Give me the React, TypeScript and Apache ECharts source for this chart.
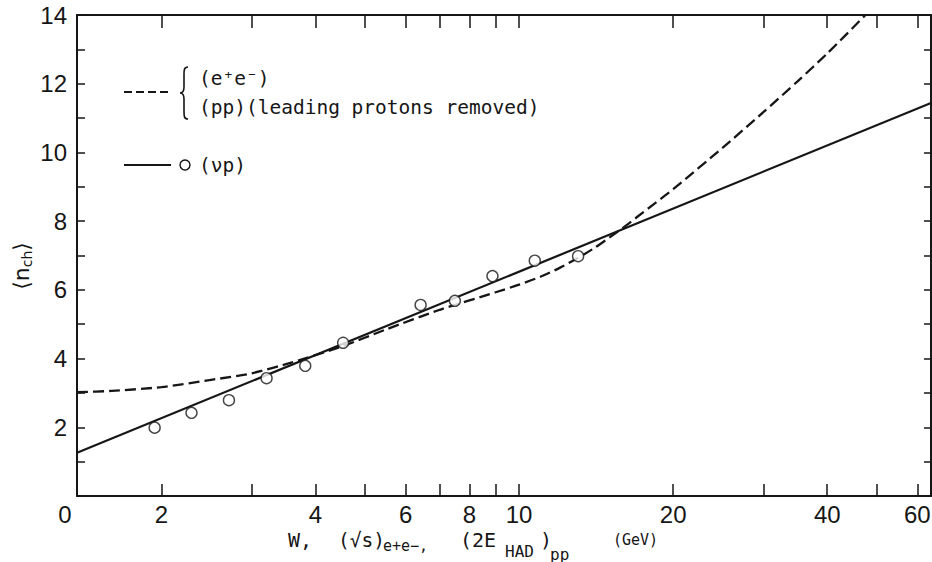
import React, { useEffect, useRef } from "react";
import * as echarts from "echarts";

// Axis ranges (W in GeV, log scale; <n_ch> linear)
const xMinW = 1.368;
const xMaxW = 63.8;
const yMin = 0;
const yMax = 14;
const yInterval = 2;
const xTickValues = [2, 3, 4, 5, 6, 7, 8, 9, 10, 20, 30, 40, 50, 60];
const xLabelValues = [2, 4, 6, 8, 10, 20, 40, 60];

// (nu p) data points
const nuW = [1.94, 2.29, 2.71, 3.21, 3.82, 4.53, 6.42, 7.49, 8.87, 10.73, 13.04];
const nuN = [1.99, 2.42, 2.79, 3.43, 3.79, 4.46, 5.56, 5.68, 6.4, 6.85, 6.98];

// (nu p) straight-line fit
const fitW = [1.368, 63.8];
const fitN = [1.26, 11.44];

// e+e- / pp dashed curve
const eeW = [1.368, 1.6, 2.0, 2.5, 3.0, 3.6, 4.5, 5.5, 7.0, 9.0, 10, 11, 12, 13, 14, 15, 16, 17, 18.5, 20, 25, 30, 35, 40, 47.5];
const eeN = [3.02, 3.06, 3.17, 3.38, 3.57, 3.89, 4.35, 4.85, 5.42, 5.93, 6.15, 6.38, 6.64, 6.92, 7.21, 7.52, 7.82, 8.12, 8.54, 8.93, 10.14, 11.17, 12.07, 12.88, 14.0];

const INK = "#161616";
const MONO = "'DejaVu Sans Mono', monospace";
const NARROW = "'Liberation Sans Narrow', 'Liberation Sans', sans-serif";

let braceRegistered = false;
function registerBrace() {
  if (braceRegistered) return;
  const d =
    "M8,0 C4,0 4,3 4,8 L4,20 C4,24 2,26 0,26 C2,26 4,28 4,32 L4,44 C4,49 4,52 8,52";
  echarts.graphic.registerShape("brace", echarts.graphic.extendPath(d, {}));
  braceRegistered = true;
}

export default function App() {
  const ref = useRef<HTMLDivElement | null>(null);

  useEffect(() => {
    if (!ref.current) return;
    registerBrace();
    const chart = echarts.init(ref.current, undefined, { renderer: "svg" });
    const lmin = Math.log10(xMinW);
    const lmax = Math.log10(xMaxW);
    const tickLogs = xTickValues.map((v) => Math.log10(v));
    const labelLogs = [lmin, ...xLabelValues.map((v) => Math.log10(v))];

    const mainText = (text: string, x: number, y: number, size: number) => ({
      type: "text",
      x,
      y,
      silent: true,
      style: {
        text,
        fill: INK,
        fontSize: size,
        fontFamily: MONO,
        align: "left",
        verticalAlign: "middle",
      },
    });

    const option: any = {
      animation: false,
      backgroundColor: "#ffffff",
      grid: {
        left: 77,
        right: 1,
        top: 15,
        bottom: 66,
        containLabel: false,
        outerBoundsMode: "none",
      },
      xAxis: [
        {
          type: "value",
          min: lmin,
          max: lmax,
          position: "bottom",
          axisLine: { show: true, onZero: false, lineStyle: { color: INK, width: 2 } },
          axisTick: {
            show: true,
            inside: true,
            length: 12,
            customValues: tickLogs,
            lineStyle: { color: INK, width: 1.5 },
          },
          axisLabel: {
            show: true,
            customValues: labelLogs,
            margin: 6,
            color: INK,
            fontSize: 24,
            fontFamily: NARROW,
            formatter: (v: number) => {
              if (Math.abs(v - lmin) < 1e-9) return "{z|0}";
              return String(Math.round(Math.pow(10, v)));
            },
            rich: {
              z: { padding: [0, 24, 0, 0], fontSize: 24, fontFamily: NARROW, color: INK },
            },
          },
          splitLine: { show: false },
        },
        {
          type: "value",
          min: lmin,
          max: lmax,
          position: "top",
          axisLine: { show: true, onZero: false, lineStyle: { color: INK, width: 2 } },
          axisTick: {
            show: true,
            inside: true,
            length: 13,
            customValues: tickLogs,
            lineStyle: { color: INK, width: 1.5 },
          },
          axisLabel: { show: false },
          splitLine: { show: false },
        },
      ],
      yAxis: [
        {
          type: "value",
          min: yMin,
          max: yMax,
          interval: yInterval,
          position: "left",
          axisLine: { show: true, onZero: false, lineStyle: { color: INK, width: 2 } },
          axisTick: { show: true, inside: true, length: 8, lineStyle: { color: INK, width: 1.5 } },
          minorTick: { show: true, splitNumber: 2, length: 8, lineStyle: { color: INK, width: 1.5 } },
          axisLabel: {
            show: true,
            margin: 10,
            color: INK,
            fontSize: 24,
            fontFamily: NARROW,
            showMinLabel: false,
          },
          splitLine: { show: false },
        },
        {
          type: "value",
          min: yMin,
          max: yMax,
          interval: yInterval,
          position: "right",
          axisLine: { show: true, onZero: false, lineStyle: { color: INK, width: 2 } },
          axisTick: { show: true, inside: true, length: 7, lineStyle: { color: INK, width: 1.5 } },
          minorTick: { show: true, splitNumber: 2, length: 7, lineStyle: { color: INK, width: 1.5 } },
          axisLabel: { show: false },
          splitLine: { show: false },
        },
      ],
      series: [
        {
          name: "(e+e-) / (pp)",
          type: "line",
          data: eeW.map((w, i) => [Math.log10(w), eeN[i]]),
          smooth: 0.25,
          symbol: "none",
          showSymbol: false,
          lineStyle: { color: INK, width: 2.3, type: [11, 5] },
          z: 2,
        },
        {
          name: "(νp) fit",
          type: "line",
          data: fitW.map((w, i) => [Math.log10(w), fitN[i]]),
          symbol: "none",
          showSymbol: false,
          lineStyle: { color: INK, width: 2.2 },
          z: 3,
        },
        {
          name: "(νp)",
          type: "scatter",
          data: nuW.map((w, i) => [Math.log10(w), nuN[i]]),
          symbol: "circle",
          symbolSize: 11,
          itemStyle: { color: "#ffffff", borderColor: INK, borderWidth: 1.4 },
          z: 5,
        },
      ],
      graphic: [
        // legend: dashed entry
        {
          type: "line",
          silent: true,
          shape: { x1: 124, y1: 92, x2: 171, y2: 92 },
          style: { stroke: INK, lineWidth: 2, lineDash: [8, 4] },
        },
        {
          type: "brace",
          x: 180,
          y: 67,
          silent: true,
          style: { fill: "none", stroke: INK, lineWidth: 1.6 },
        },
        mainText("(e⁺e⁻)", 199, 78, 19.5),
        mainText("(pp)(leading protons removed)", 199, 107, 19.5),
        // legend: solid entry
        {
          type: "line",
          silent: true,
          shape: { x1: 124, y1: 165, x2: 171, y2: 165 },
          style: { stroke: INK, lineWidth: 2.2 },
        },
        {
          type: "circle",
          silent: true,
          shape: { cx: 185, cy: 165, r: 5 },
          style: { fill: "#ffffff", stroke: INK, lineWidth: 1.4 },
        },
        mainText("(νp)", 199, 165, 19.5),
        // y axis title
        {
          type: "text",
          x: 21,
          y: 266,
          rotation: Math.PI / 2,
          silent: true,
          style: {
            text: "{a|⟨n}{b|ch}{a|⟩}",
            align: "center",
            verticalAlign: "middle",
            fill: INK,
            rich: {
              a: { fontSize: 22, fontFamily: "'DejaVu Sans', sans-serif", fill: INK, color: INK },
              b: {
                fontSize: 14,
                fontFamily: "'DejaVu Sans', sans-serif",
                fill: INK,
                color: INK,
                padding: [12, 0, 0, 0],
              },
            },
          },
        },
        // x axis title
        mainText("W,", 288, 540, 20),
        mainText("(√s)", 338, 540, 19.5),
        mainText("e+e−,", 383, 546, 15),
        mainText("(2E", 460, 540, 20),
        mainText("HAD", 505, 551, 16),
        mainText(")", 540, 540, 20),
        mainText("pp", 550, 554, 16),
        mainText("(GeV)", 613, 540, 15),
      ],
    };

    chart.setOption(option);
    return () => {
      chart.dispose();
    };
  }, []);

  return (
    <div
      ref={ref}
      style={{
        position: "fixed",
        left: 0,
        top: 0,
        width: 932,
        height: 562,
        background: "#ffffff",
      }}
    />
  );
}
